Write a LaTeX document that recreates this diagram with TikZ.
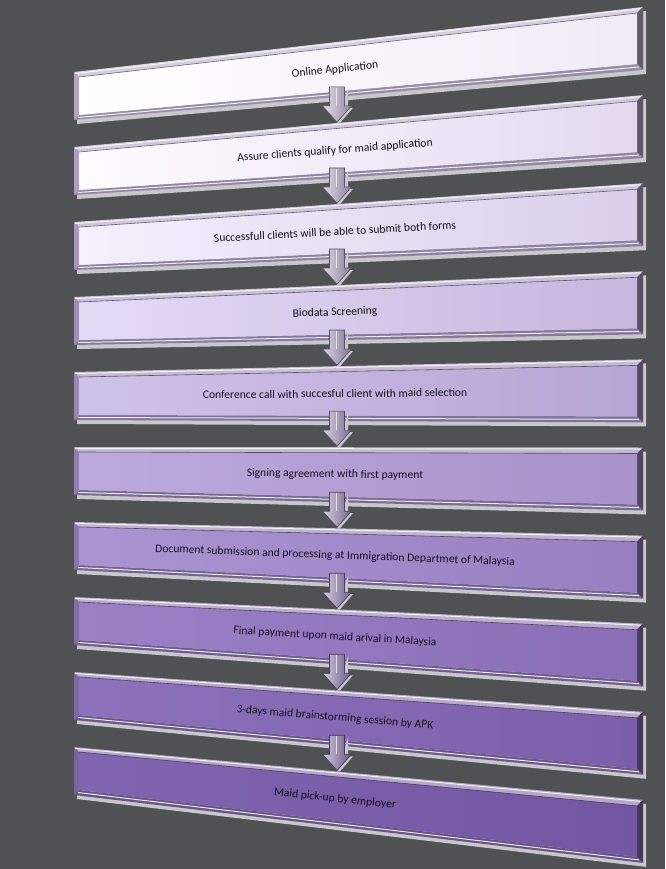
\documentclass[tikz,border=0pt]{standalone}
\usepackage{fontspec}
\setmainfont{Carlito}
\usetikzlibrary{calc}
\definecolor{bg}{RGB}{80,81,83}
\definecolor{fr}{RGB}{125,110,152}
\definecolor{shd}{RGB}{200,200,204}
\definecolor{txt}{RGB}{20,16,30}
\definecolor{cL1}{HTML}{FFFFFF}\definecolor{cR1}{HTML}{F1EAF6}
\definecolor{cL2}{HTML}{FEFCFF}\definecolor{cR2}{HTML}{E4D9EF}
\definecolor{cL3}{HTML}{F6F0FC}\definecolor{cR3}{HTML}{DACEEB}
\definecolor{cL4}{HTML}{E5DAF6}\definecolor{cR4}{HTML}{C6B7DD}
\definecolor{cL5}{HTML}{D0C3EA}\definecolor{cR5}{HTML}{B6A5D3}
\definecolor{cL6}{HTML}{BDAADD}\definecolor{cR6}{HTML}{A792C9}
\definecolor{cL7}{HTML}{AA94D2}\definecolor{cR7}{HTML}{9780C0}
\definecolor{cL8}{HTML}{9A81C6}\definecolor{cR8}{HTML}{896EB6}
\definecolor{cL9}{HTML}{8C71BB}\definecolor{cR9}{HTML}{7C5FAB}
\definecolor{cL10}{HTML}{8065B0}\definecolor{cR10}{HTML}{7256A1}
\begin{document}
\begin{tikzpicture}[x=1pt,y=-1pt,
  steptext/.style={font=\fontsize{11.6}{13}\selectfont, text=txt, inner sep=0pt},
  hilite/.style={draw=white, line width=1pt, opacity=0.85}]
\fill[bg] (0,0) rectangle (665,869);
\useasboundingbox (0,0) rectangle (665,869);
% boxes
\foreach \k/\txt in {1/Online Application,
  2/Assure clients qualify for maid application,
  3/Successfull clients will be able to submit both forms,
  4/Biodata Screening,
  5/Conference call with succesful client with maid selection,
  6/Signing agreement with first payment,
  7/Document submission and processing at Immigration Departmet of Malaysia,
  8/Final payment upon maid arival in Malaysia,
  9/3-days maid brainstorming session by APK,
  10/Maid pick-up by employer}{
  \pgfmathsetmacro\Lt{72+75*(\k-1)}
  \pgfmathsetmacro\Lb{\Lt+48}
  \pgfmathsetmacro\Rt{7+88.1*(\k-1)}
  \pgfmathsetmacro\Rb{\Rt+63}
  \pgfmathsetmacro\ang{atan((57.5-13.1*(\k-1))/569)}
  \pgfmathsetmacro\yc{\Lt+24+(\Rt+31.5-\Lt-24)*261/569}
  \colorlet{fb}{cR\k!45!fr}
  % shadow
  \fill[shd] (77,\Lt+4) -- (646,\Rt+4) -- (646,\Rb+4) -- (77,\Lb+4) -- cycle;
  % bevels
  \fill[fb!55!white] (74,\Lt) -- (643,\Rt) -- (637,\Rt+6) -- (79,\Lt+5) -- cycle;
  \fill[fb!55!black] (643,\Rt) -- (643,\Rb) -- (637,\Rb-6) -- (637,\Rt+6) -- cycle;
  \fill[fb!85!black] (74,\Lb) -- (643,\Rb) -- (637,\Rb-6) -- (79,\Lb-5) -- cycle;
  \fill[fb] (74,\Lt) -- (79,\Lt+5) -- (79,\Lb-5) -- (74,\Lb) -- cycle;
  \draw[hilite] (75,\Lt+1.5) -- (641,\Rt+1.5);
  \draw[hilite] (78,\Lb-2.5) -- (639,\Rb-3);
  % inner panel
  \shade[left color=cL\k, right color=cR\k] (79,\Lt+5) -- (637,\Rt+6) -- (637,\Rb-6) -- (79,\Lb-5) -- cycle;
  \draw[fb!60!black, line width=0.6pt] (79,\Lt+5) -- (637,\Rt+6);
  \node[steptext, rotate=\ang] (t\k) at (335,\yc) {\txt};
}
% arrows
\foreach \k in {1,...,9}{
  \pgfmathsetmacro\yb{15.85+81.05*\k}
  \pgfmathsetmacro\yn{42+81.05*\k}
  \colorlet{fb}{cR\k!45!fr}
  \coordinate (s\k) at (337,\yb-10);
  \coordinate (e\k) at (337,\yn-1);
  \fill[shd] ($(s\k)+(11,2)$) -- ++(0,{\yb+9-(\yb-10)}) -- ++(5,0) -- ($(e\k)+(3,1)$) -- ($(e\k)+(0,1)$) -- cycle;
  \shade[left color=fb!35!white, right color=fb!80!black, draw=fb!55!black, line width=0.7pt]
    ($(s\k)+(-7.5,0)$) -- ($(s\k)+(7.5,0)$) -- ($(s\k)+(7.5,19)$) -- ($(s\k)+(14.5,19)$)
    -- (e\k) -- ($(s\k)+(-14.5,19)$) -- ($(s\k)+(-7.5,19)$) -- cycle;
  \draw[white, line width=0.8pt, opacity=0.7] ($(s\k)+(-1,1)$) -- ($(s\k)+(-1,19)$);
}
\end{tikzpicture}
\end{document}
